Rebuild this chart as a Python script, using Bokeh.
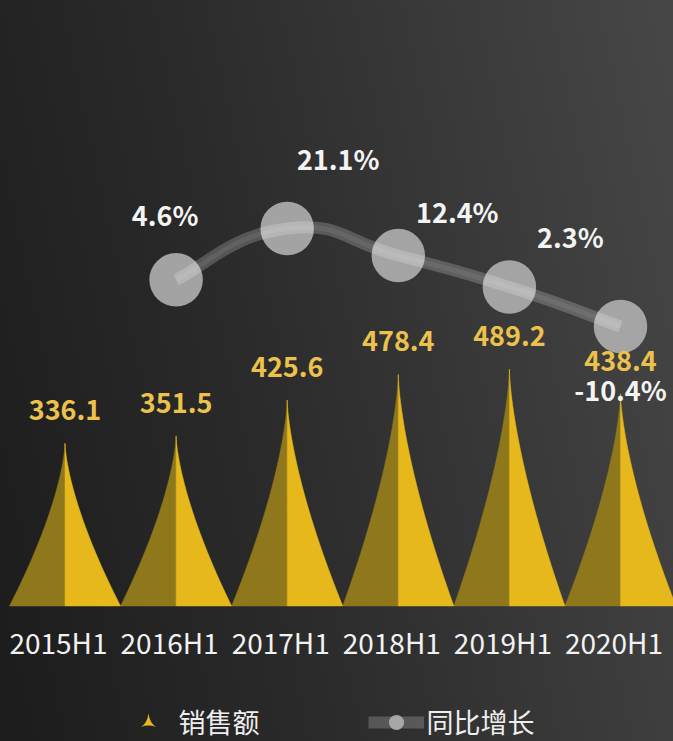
import numpy as np
from bokeh.plotting import figure
from bokeh.models import Range1d, FixedTicker, Legend, LegendItem, ColumnDataSource
from bokeh.core.properties import value
from bokeh.embed import file_html
from bokeh.resources import INLINE

# ---------------- data ----------------
categories = ["2015H1", "2016H1", "2017H1", "2018H1", "2019H1", "2020H1"]
sales = [336.1, 351.5, 425.6, 478.4, 489.2, 438.4]
growth_categories = ["2016H1", "2017H1", "2018H1", "2019H1", "2020H1"]
growth = [4.6, 21.1, 12.4, 2.3, -10.4]
series_names = ["销售额", "同比增长"]

# ---------------- style ----------------
FONT = "Noto Sans CJK SC"
GOLD_DARK = "#8f781c"
GOLD_LIGHT = "#e6b81c"
LABEL_GOLD = "#ecc24c"
DOT_COLOR = "#b0b0b0"
GROWTH_DX = [-11, 51, 59, 61, 0]
GROWTH_DY = [-65, -70, -44, -50, 63]
LABEL_SHIFT = -0.0585          # category-label nudge (category units)

W, H = 673, 741
AXIS_STANDOFF = 16
# canvas-pixel geometry (frame covers the whole canvas)
frame_top_px = 0
frame_bot_px = H
base_px, bar_scale = 605.5, 0.484
pct_ref_px, pct_ref, pct_scale = 228.0, 21.1, 3.111

y_start = (base_px - frame_bot_px) / bar_scale
y_end = (base_px - frame_top_px) / bar_scale
pct_start = pct_ref - (frame_bot_px - pct_ref_px) / pct_scale
pct_end = pct_ref + (pct_ref_px - frame_top_px) / pct_scale

cat_c0, cat_step = 64.5, 111.1
x_start = (0 - cat_c0) / cat_step
x_end = (W - cat_c0) / cat_step

p = figure(width=W, height=H, output_backend="svg", toolbar_location=None,
           x_range=Range1d(x_start, x_end), y_range=Range1d(y_start, y_end),
           y_axis_location=None,
           min_border_left=0, min_border_right=0, min_border_top=0,
           min_border_bottom=0)
p.extra_y_ranges = {"pct": Range1d(pct_start, pct_end)}
p.background_fill_alpha = 0
p.border_fill_alpha = 0
p.outline_line_color = None
p.grid.visible = False
p.styles = {"background": "linear-gradient(78deg, #1c1c1c 0%, #2b2b2b 40%, #474747 100%)"}

x_idx = list(range(len(categories)))

# ---------------- spike bars ----------------
h = np.linspace(0.0, 1.0, 48)
prof = 0.5 * (1.0 - h) ** 1.5
lx, ly, rx, ry = [], [], [], []
for i, v in zip(x_idx, sales):
    rx.append(np.concatenate([[i], i + prof]).tolist())
    ry.append(np.concatenate([[0.0], v * h]).tolist())
    lx.append(np.concatenate([[i], i - prof]).tolist())
    ly.append(np.concatenate([[0.0], v * h]).tolist())
p.patches(lx, ly, fill_color=GOLD_DARK, line_color=GOLD_DARK, line_width=0.5)
p.patches(rx, ry, fill_color=GOLD_LIGHT, line_color=GOLD_LIGHT, line_width=0.5)
spike_icon = p.scatter(x=x_idx, y=sales, marker="triangle_pin", fill_color=GOLD_LIGHT,
                       line_color=None, visible=False)

# ---------------- growth line ----------------
gx = np.array([categories.index(c) for c in growth_categories], dtype=float)
gy = np.array(growth, dtype=float)
px_ = np.r_[gx[0], gx[:-1]]; nx_ = np.r_[gx[1:], gx[-1]]
py_ = np.r_[gy[0], gy[:-1]]; ny_ = np.r_[gy[1:], gy[-1]]
tx, ty = 0.25 * (nx_ - px_), 0.25 * (ny_ - py_)
seg = ColumnDataSource(dict(
    x0=gx[:-1], y0=gy[:-1], x1=gx[1:], y1=gy[1:],
    cx0=gx[:-1] + tx[:-1], cy0=gy[:-1] + ty[:-1],
    cx1=gx[1:] - tx[1:], cy1=gy[1:] - ty[1:]))

dots = p.scatter(x=gx, y=gy, size=53.5, fill_color=DOT_COLOR, fill_alpha=0.9,
                 line_color=None, y_range_name="pct")
line_r = p.bezier(x0="x0", y0="y0", x1="x1", y1="y1", cx0="cx0", cy0="cy0",
                  cx1="cx1", cy1="cy1", source=seg, line_color="white",
                  line_alpha=0.2, line_width=12, y_range_name="pct")
p.bezier(x0="x0", y0="y0", x1="x1", y1="y1", cx0="cx0", cy0="cy0",
         cx1="cx1", cy1="cy1", source=seg, line_color="white",
         line_alpha=0.07, line_width=5, y_range_name="pct")

# ---------------- labels ----------------
p.text(x=x_idx, y=sales, text=[f"{v:.1f}" for v in sales], y_offset=-33,
       text_align="center", text_baseline="middle", text_font=value(FONT),
       text_font_size="27px", text_font_style="bold", text_color=LABEL_GOLD)
gsrc = ColumnDataSource(dict(x=gx, y=gy, t=[f"{g:.1f}%" for g in growth],
                             dx=GROWTH_DX, dy=GROWTH_DY))
p.text(x="x", y="y", text="t", x_offset="dx", y_offset="dy", source=gsrc,
       y_range_name="pct", text_align="center", text_baseline="middle",
       text_font=value(FONT), text_font_size="27px", text_font_style="bold",
       text_color="#f4f4f4")

# ---------------- x axis (drawn at the bar baseline) ----------------
tick_pos = [round(i + LABEL_SHIFT, 4) for i in x_idx]
ax = p.xaxis[0]
ax.fixed_location = 0
ax.ticker = FixedTicker(ticks=tick_pos)
ax.major_label_overrides = {t: c for t, c in zip(tick_pos, categories)}
ax.axis_line_color = None
ax.major_tick_line_color = None
ax.minor_tick_line_color = None
ax.major_tick_out = 0
ax.major_tick_in = 0
ax.minor_tick_out = 0
ax.major_label_standoff = AXIS_STANDOFF
ax.major_label_text_font = FONT
ax.major_label_text_font_size = "28px"
ax.major_label_text_color = "#f2f2f2"

# ---------------- legend ----------------
legend = Legend(items=[LegendItem(label=series_names[0], renderers=[spike_icon]),
                       LegendItem(label=series_names[1], renderers=[line_r, dots])],
                orientation="horizontal", location=(119.5, 0),
                glyph_width=56, glyph_height=38, label_standoff=3, spacing=108,
                padding=0, margin=0, background_fill_alpha=0, border_line_alpha=0,
                label_text_font=FONT, label_text_font_size="27px",
                label_text_color="#eeeeee")
p.add_layout(legend)

open("out.html", "w").write(file_html(p, INLINE))
